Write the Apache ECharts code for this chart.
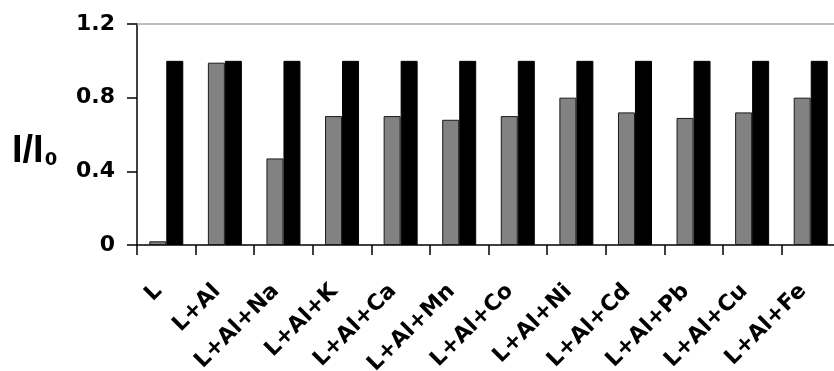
<!DOCTYPE html>
<html>
<head>
<meta charset="utf-8">
<script src="https://cdn.jsdelivr.net/npm/echarts@6/dist/echarts.min.js"></script>
<style>
html,body{margin:0;padding:0;background:#fff;}
#c{width:834px;height:371px;}
</style>
</head>
<body>
<div id="c"></div>
<script>
var categories = ['L','L+Al','L+Al+Na','L+Al+K','L+Al+Ca','L+Al+Mn','L+Al+Co','L+Al+Ni','L+Al+Cd','L+Al+Pb','L+Al+Cu','L+Al+Fe'];
var greyValues = [0.02, 0.99, 0.47, 0.70, 0.70, 0.68, 0.70, 0.80, 0.72, 0.69, 0.72, 0.80];
var blackValues = [1, 1, 1, 1, 1, 1, 1, 1, 1, 1, 1, 1];
var yTicks = [0, 0.4, 0.8, 1.2];

var chart = echarts.init(document.getElementById('c'), null, {renderer:'canvas'});
var font = '"DejaVu Sans", sans-serif';
var fontA = '"Liberation Sans", Arial, sans-serif';
chart.setOption({
  animation: false,
  grid: {left: 137, top: 24, bottom: 126, right: -6, containLabel: false, outerBoundsMode: 'none'},
  xAxis: [{
    type: 'category',
    data: categories,
    position: 'bottom',
    axisLine: {lineStyle: {color: '#000', width: 1.5}},
    axisTick: {show: true, length: 10, alignWithLabel: false, lineStyle: {color: '#000', width: 1.5}},
    axisLabel: {rotate: 45, margin: 35, padding: [0, 11, 0, 0], interval: 0, fontSize: 22, fontWeight: 'bold', color: '#000', fontFamily: font},
    splitLine: {show: false}
  }, {
    type: 'category',
    data: categories,
    position: 'top',
    axisLine: {lineStyle: {color: '#aaa', width: 1.5}},
    axisTick: {show: false},
    axisLabel: {show: false}
  }],
  yAxis: {
    type: 'value',
    min: 0, max: 1.2, interval: 0.4,
    axisLine: {show: true, lineStyle: {color: '#000', width: 1.5}},
    axisTick: {show: true, length: 10, lineStyle: {color: '#000', width: 1.5}},
    axisLabel: {
      margin: 22, fontSize: 22, fontWeight: 'bold', color: '#000', fontFamily: font,
      formatter: function(v){ var i = yTicks.indexOf(Math.round(v*10)/10); return i >= 0 ? String(yTicks[i]) : ''; }
    },
    splitLine: {show: false}
  },
  graphic: [{
    type: 'text',
    left: 12, top: 133,
    style: {
      text: '{a|I/I}{b|0}',
      rich: {
        a: {fontSize: 38, fontWeight: 'bold', fontFamily: fontA, fill: '#000'},
        b: {fontSize: 18, fontWeight: 'bold', fontFamily: font, fill: '#000', padding: [16,0,0,1]}
      }
    }
  }],
  series: [{
    type: 'bar',
    data: greyValues,
    barWidth: 17,
    barGap: '0%',
    itemStyle: {color: '#828282', borderColor: '#1a1a1a', borderWidth: 1}
  }, {
    type: 'bar',
    data: blackValues,
    barWidth: 17,
    barGap: '0%',
    itemStyle: {color: '#000', borderColor: '#000', borderWidth: 1}
  }]
});
</script>
</body>
</html>
